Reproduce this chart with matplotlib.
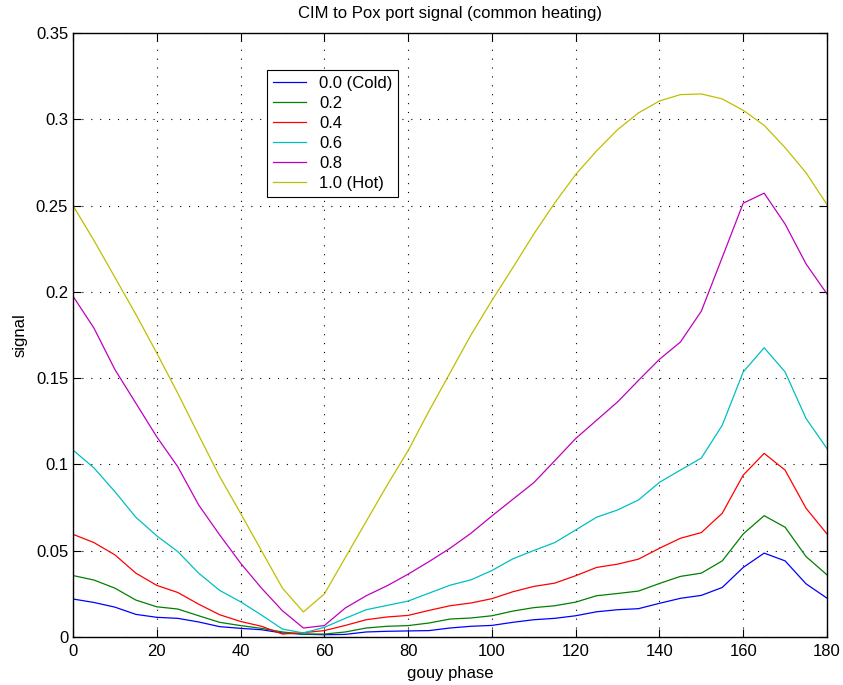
import numpy as np
import matplotlib
matplotlib.use("Agg")
import matplotlib.pyplot as plt
from matplotlib.ticker import FuncFormatter

""" data read off the reference: signal vs gouy phase, one curve per heating level """
gouy = np.arange(0, 181, 5)

cold = [0.022, 0.020, 0.0173, 0.0131, 0.0114, 0.0108, 0.0087, 0.006, 0.005, 0.0042,
        0.0023, 0.0016, 0.0013, 0.0015, 0.0029, 0.0033, 0.0035, 0.0037, 0.0052, 0.0062,
        0.0067, 0.0085, 0.010, 0.0108, 0.0123, 0.0146, 0.0158, 0.0164, 0.0195, 0.0224,
        0.0241, 0.0287, 0.0403, 0.0486, 0.0441, 0.0308, 0.0225]
h02 = [0.0356, 0.033, 0.0283, 0.0214, 0.0175, 0.0162, 0.0123, 0.0085, 0.0066, 0.005,
       0.0029, 0.0017, 0.0017, 0.0029, 0.0052, 0.0062, 0.0066, 0.0081, 0.0104, 0.011,
       0.0123, 0.015, 0.017, 0.0181, 0.0202, 0.0239, 0.0252, 0.0266, 0.031, 0.0351,
       0.037, 0.0441, 0.0597, 0.0703, 0.0636, 0.0466, 0.036]
h04 = [0.0595, 0.0547, 0.0476, 0.037, 0.0299, 0.0258, 0.019, 0.0129, 0.009, 0.0062,
       0.0017, 0.0025, 0.0037, 0.0067, 0.010, 0.0116, 0.0125, 0.0154, 0.0181, 0.0197,
       0.0222, 0.0262, 0.0293, 0.0312, 0.0355, 0.0403, 0.0422, 0.0451, 0.0514, 0.0572,
       0.0605, 0.0717, 0.0938, 0.1064, 0.0967, 0.0746, 0.0597]
h06 = [0.1083, 0.098, 0.0842, 0.0694, 0.0586, 0.0495, 0.037, 0.027, 0.0204, 0.0127,
       0.0046, 0.0023, 0.0056, 0.0108, 0.0158, 0.0183, 0.0208, 0.0254, 0.030, 0.0331,
       0.0385, 0.0453, 0.0501, 0.0547, 0.062, 0.0694, 0.0736, 0.0794, 0.0896, 0.0967,
       0.1037, 0.1227, 0.1536, 0.1676, 0.1536, 0.1266, 0.1092]
h08 = [0.1975, 0.179, 0.155, 0.1355, 0.116, 0.0987, 0.0765, 0.0592, 0.0428, 0.0283,
       0.0152, 0.0052, 0.0066, 0.0168, 0.0239, 0.0297, 0.0364, 0.0437, 0.0514, 0.0601,
       0.0701, 0.0798, 0.0894, 0.1021, 0.115, 0.1256, 0.1362, 0.1487, 0.1609, 0.1709,
       0.1888, 0.22, 0.2514, 0.2572, 0.2393, 0.2162, 0.1988]
hot = [0.25, 0.2298, 0.2084, 0.187, 0.1645, 0.1413, 0.117, 0.093, 0.0717, 0.05,
       0.0283, 0.0145, 0.0249, 0.046, 0.067, 0.088, 0.108, 0.131, 0.153, 0.175,
       0.195, 0.214, 0.2335, 0.2515, 0.268, 0.2817, 0.294, 0.3037, 0.3106, 0.3143,
       0.3147, 0.3118, 0.3052, 0.2965, 0.2836, 0.269, 0.2506]

labels = ["0.0 (Cold)", "0.2", "0.4", "0.6", "0.8", "1.0 (Hot)"]
colors = [(0, 0, 1), (0, 0.5, 0), (1, 0, 0), (0, 0.75, 0.75), (0.75, 0, 0.75), (0.75, 0.75, 0)]

plt.rcParams['font.family'] = ['Liberation Sans', 'DejaVu Sans']
plt.rcParams['font.size'] = 12

fig = plt.figure(figsize=(8.43, 6.85), dpi=100)
ax = fig.add_axes([0.0866, 0.0701, 0.8944, 0.8817])

for series, lab, col in zip([cold, h02, h04, h06, h08, hot], labels, colors):
    ax.plot(gouy, series, color=col, linewidth=0.9, label=lab)

ax.set_xlim(0, 180)
ax.set_ylim(0, 0.35)
ax.set_xticks(np.arange(0, 181, 20))
ax.set_yticks(np.arange(0, 0.351, 0.05))
ax.yaxis.set_major_formatter(FuncFormatter(lambda v, p: "%g" % round(v, 2)))
ax.tick_params(direction='in', top=True, right=True, length=6, width=0.8, labelsize=12)
ax.tick_params(axis='x', pad=5)
ax.grid(True, color='black', linestyle=(0, (1, 7)), linewidth=0.8)
for s in ax.spines.values():
    s.set_linewidth(1.0)

ax.set_xlabel('gouy phase', fontsize=12, labelpad=5)
ax.set_ylabel('signal', fontsize=12, labelpad=6)
ax.set_title('CIM to Pox port signal (common heating)', fontsize=12, pad=11)

leg = ax.legend(loc='upper left', bbox_to_anchor=(0.257, 0.9385), borderaxespad=0,
                fancybox=False, framealpha=1, edgecolor='black', fontsize=12,
                handlelength=2.0, handletextpad=0.8, labelspacing=0.3, borderpad=0.35)
leg.get_frame().set_linewidth(0.8)

fig.savefig('out.png', dpi=100)
